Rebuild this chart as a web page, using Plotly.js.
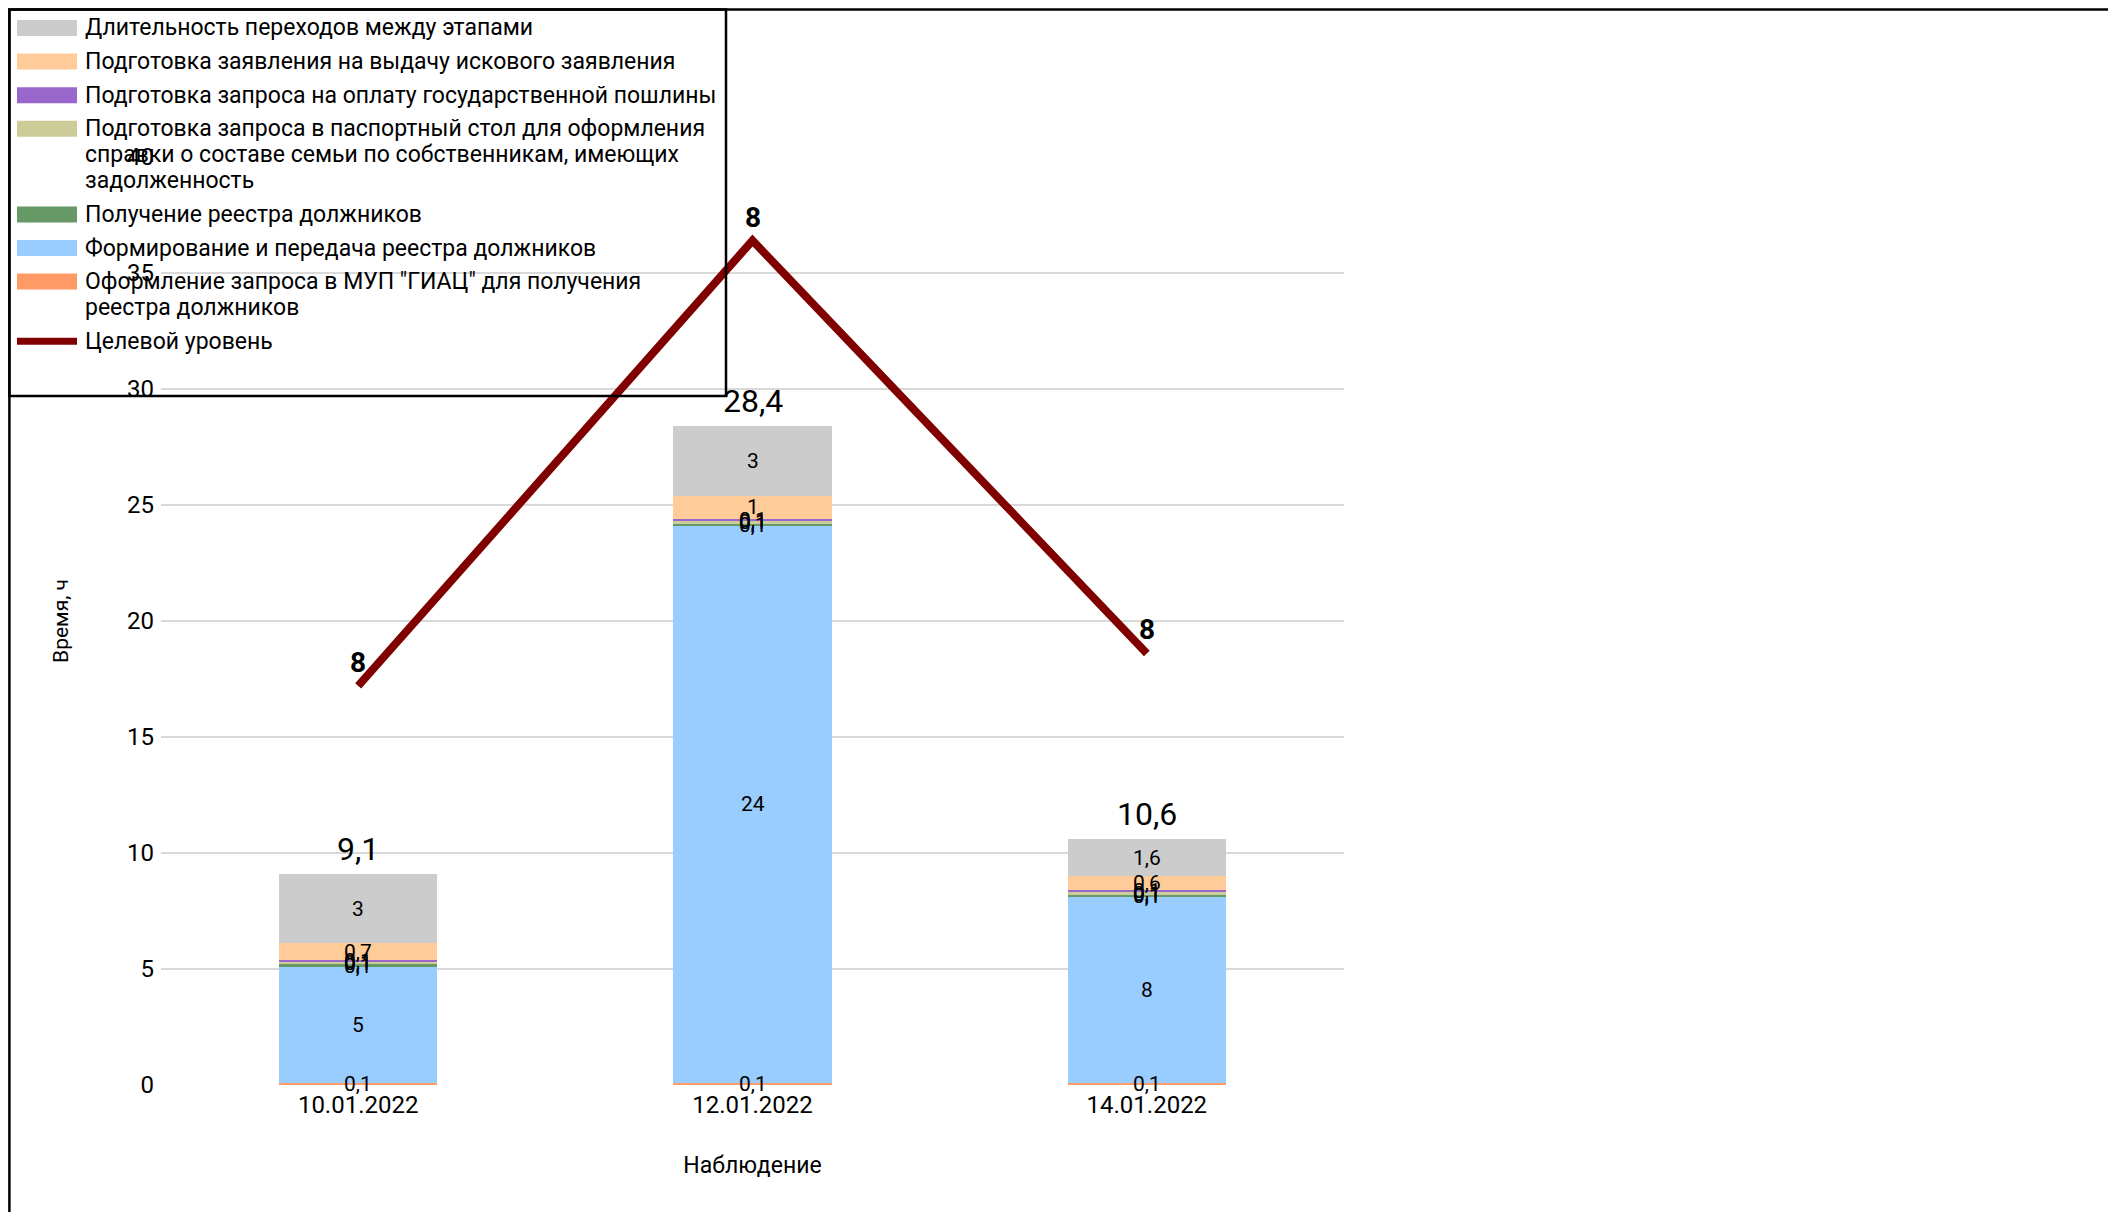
<!DOCTYPE html>
<html>
<head>
<meta charset="utf-8">
<script src="https://cdn.plot.ly/plotly-3.0.1.min.js"></script>
<style>
  html, body { margin: 0; padding: 0; background: #fff; }
  #chart { width: 2108px; height: 1212px; }
</style>
</head>
<body>
<div id="chart"></div>
<script>
// ---- data ----
const categories = ['10.01.2022', '12.01.2022', '14.01.2022'];

const nameGiac = 'Оформление запроса в МУП "ГИАЦ" для получения<br>реестра должников';
const nameForm = 'Формирование и передача реестра должников';
const nameReceive = 'Получение реестра должников';
const namePassport = 'Подготовка запроса в паспортный стол для оформления<br>справки о составе семьи по собственникам, имеющих<br>задолженность';
const nameDuty = 'Подготовка запроса на оплату государственной пошлины';
const nameClaim = 'Подготовка заявления на выдачу искового заявления';
const nameTransit = 'Длительность переходов между этапами';
const nameTarget = 'Целевой уровень';

const valuesGiac = [0.1, 0.1, 0.1];
const valuesForm = [5, 24, 8];
const valuesReceive = [0.1, 0.1, 0.1];
const valuesPassport = [0.1, 0.1, 0.1];
const valuesDuty = [0.1, 0.1, 0.1];
const valuesClaim = [0.7, 1, 0.6];
const valuesTransit = [3, 3, 1.6];

const targetLabels = [8, 8, 8];
const targetLinePos = [17.2, 36.4, 18.6];

const yTicks = [0, 5, 10, 15, 20, 25, 30, 35, 40];

// ---- build ----
const FONT = 'Roboto, "Noto Sans", "Liberation Sans", sans-serif';
const fmt = v => String(Math.round(v * 10) / 10).replace('.', ',');

const W = 2108, H = 1212;
const mL = 161, mR = 764, mT = 157, mB = 127;
const pw = W - mL - mR, ph = H - mT - mB;
const px2x = px => (px - mL) / pw;
const px2y = py => (H - mB - py) / ph;

const series = [
  { name: nameGiac,     y: valuesGiac,     color: '#FF9966' },
  { name: nameForm,     y: valuesForm,     color: '#99CCFF' },
  { name: nameReceive,  y: valuesReceive,  color: '#669966' },
  { name: namePassport, y: valuesPassport, color: '#CCCC99' },
  { name: nameDuty,     y: valuesDuty,     color: '#9966CC' },
  { name: nameClaim,    y: valuesClaim,    color: '#FFCC99' },
  { name: nameTransit,  y: valuesTransit,  color: '#CCCCCC' }
];
const targetColor = '#800000';

const traces = series.map(s => ({
  type: 'bar', x: categories, y: s.y, name: s.name.replace(/<br>/g, ' '),
  marker: { color: s.color, line: { width: 0 } },
  showlegend: false, hoverinfo: 'skip'
}));

traces.push({
  type: 'scatter', mode: 'lines', x: categories, y: targetLinePos, name: nameTarget,
  line: { color: targetColor, width: 8 }, showlegend: false, cliponaxis: false, hoverinfo: 'skip'
});

const totals = categories.map((c, i) => series.reduce((a, s) => a + s.y[i], 0));

const annotations = [];
const shapes = [];

// segment labels (centred on each stacked segment)
categories.forEach((c, i) => {
  let base = 0;
  series.forEach(s => {
    annotations.push({
      xref: 'x', yref: 'y', x: c, y: base + s.y[i] / 2, text: fmt(s.y[i]),
      showarrow: false, yanchor: 'middle', borderpad: 0,
      font: { family: FONT, size: 21, color: '#000000' }
    });
    base += s.y[i];
  });
});

// total labels and target labels
categories.forEach((c, i) => {
  annotations.push({
    xref: 'x', yref: 'y', x: c, y: totals[i], text: fmt(totals[i]),
    showarrow: false, yanchor: 'bottom', yshift: 5, borderpad: 0,
    font: { family: FONT, size: 32, color: '#000000' }
  });
  annotations.push({
    xref: 'x', yref: 'y', x: c, y: targetLinePos[i], text: '<b>' + targetLabels[i] + '</b>',
    showarrow: false, yanchor: 'bottom', yshift: 6, borderpad: 0,
    font: { family: FONT, size: 28, color: '#000000' }
  });
});

// legend (Excel-style, listed top series first)
const legendItems = series.slice().reverse().map(s => ({ name: s.name, color: s.color, kind: 'bar' }));
legendItems.push({ name: nameTarget, color: targetColor, kind: 'line' });

let ly = 28;
legendItems.forEach(item => {
  const lines = item.name.split('<br>');
  if (item.kind === 'bar') {
    shapes.push({
      type: 'rect', xref: 'paper', yref: 'paper',
      x0: px2x(17), x1: px2x(77), y0: px2y(ly + 8), y1: px2y(ly - 8),
      fillcolor: item.color, line: { width: 0 }, layer: 'above'
    });
  } else {
    shapes.push({
      type: 'line', xref: 'paper', yref: 'paper',
      x0: px2x(17), x1: px2x(77), y0: px2y(ly), y1: px2y(ly),
      line: { color: item.color, width: 7 }, layer: 'above'
    });
  }
  lines.forEach((t, k) => {
    annotations.push({
      xref: 'paper', yref: 'paper', x: px2x(84), y: px2y(ly + k * 26),
      xanchor: 'left', yanchor: 'middle', text: t, showarrow: false, borderpad: 0,
      font: { family: FONT, size: 23, color: '#000000' }
    });
  });
  ly += (lines.length - 1) * 26 + 33.6;
});

// legend frame
shapes.push({
  type: 'rect', xref: 'paper', yref: 'paper',
  x0: px2x(9.4), x1: px2x(726), y0: px2y(396), y1: px2y(9.4),
  line: { color: '#000000', width: 2.5 }, fillcolor: 'rgba(0,0,0,0)', layer: 'above'
});
// chart outer frame
shapes.push({
  type: 'rect', xref: 'paper', yref: 'paper',
  x0: px2x(9.4), x1: px2x(W + 50), y0: px2y(H + 50), y1: px2y(9.4),
  line: { color: '#000000', width: 2.5 }, fillcolor: 'rgba(0,0,0,0)', layer: 'above'
});

const layout = {
  width: W, height: H,
  margin: { l: mL, r: mR, t: mT, b: mB, pad: 0, autoexpand: false },
  paper_bgcolor: '#ffffff', plot_bgcolor: '#ffffff',
  font: { family: FONT, size: 22, color: '#000000' },
  separators: ', ',
  barmode: 'stack', bargap: 0.598,
  showlegend: false,
  xaxis: {
    type: 'category', categoryarray: categories,
    showgrid: false, zeroline: false, showline: false, ticks: '',
    tickfont: { family: FONT, size: 24, color: '#000000' },
    ticklabelstandoff: 3, automargin: false,
    title: { text: 'Наблюдение', font: { family: FONT, size: 23, color: '#000000' }, standoff: 38 }
  },
  yaxis: {
    range: [0, 40], tickvals: yTicks, ticktext: yTicks.map(String),
    showgrid: true, gridcolor: '#D9D9D9', gridwidth: 2.5,
    zeroline: false, showline: false, ticks: '',
    tickfont: { family: FONT, size: 24, color: '#000000' },
    ticklabelstandoff: 6, automargin: false,
    title: { text: 'Время, ч', font: { family: FONT, size: 21, color: '#000000' }, standoff: 52 }
  },
  shapes: shapes,
  annotations: annotations
};

Plotly.newPlot('chart', traces, layout, { displayModeBar: false, staticPlot: true });
</script>
</body>
</html>
